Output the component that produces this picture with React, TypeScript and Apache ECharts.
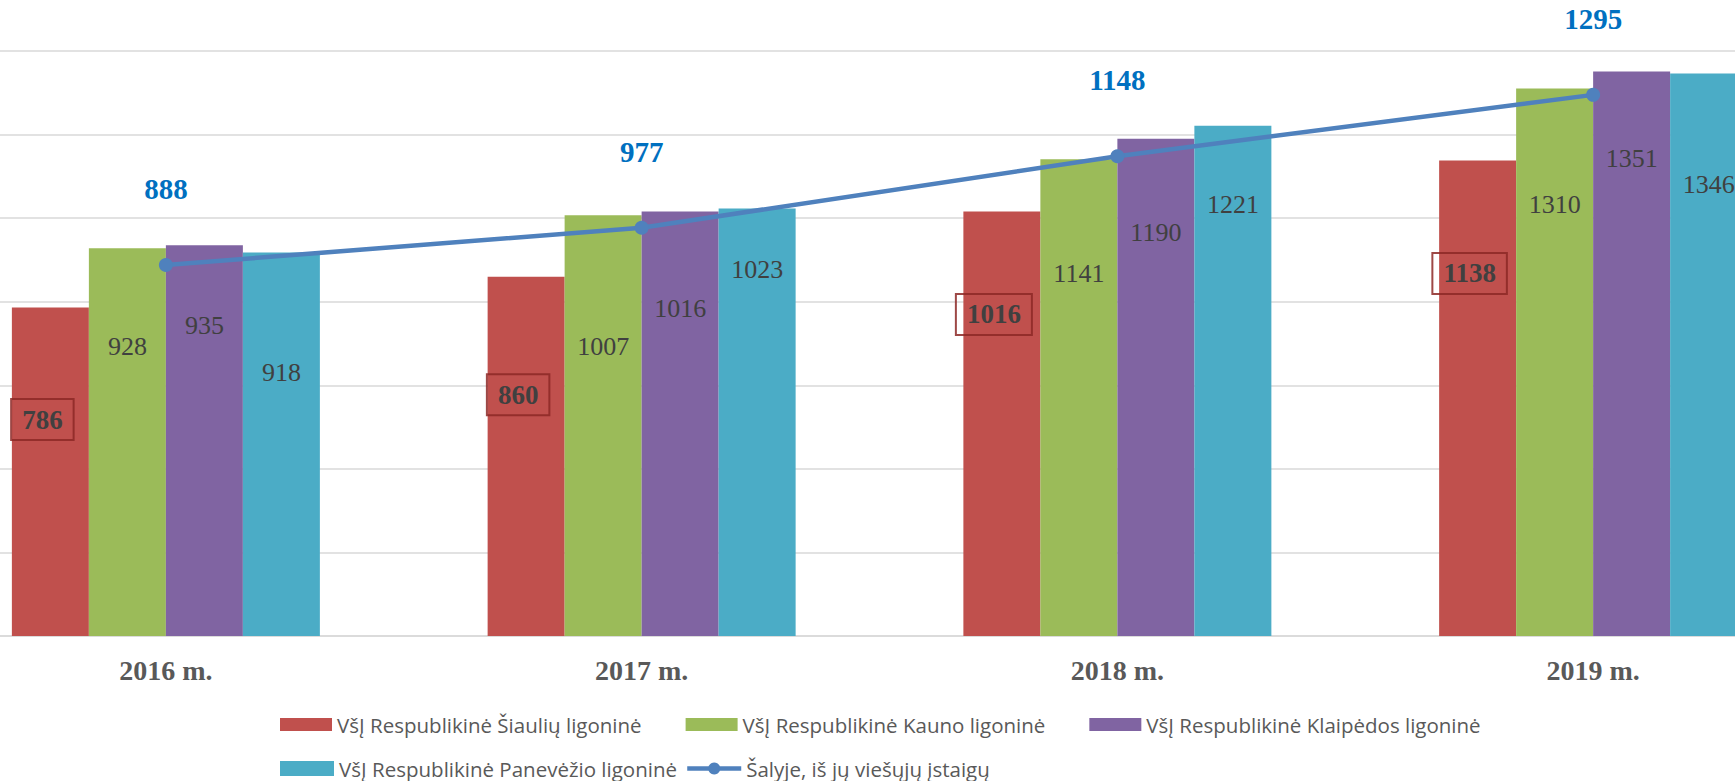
import React, { useEffect, useRef } from 'react';
import * as echarts from 'echarts';

const categories = ['2016 m.', '2017 m.', '2018 m.', '2019 m.'];
const siauliai = [786, 860, 1016, 1138];
const kaunas = [928, 1007, 1141, 1310];
const klaipeda = [935, 1016, 1190, 1351];
const panevezys = [918, 1023, 1221, 1346];
const salyje = [888, 977, 1148, 1295];

const names = [
  'VšĮ Respublikinė Šiaulių ligoninė',
  'VšĮ Respublikinė Kauno ligoninė',
  'VšĮ Respublikinė Klaipėdos ligoninė',
  'VšĮ Respublikinė Panevėžio ligoninė',
  'Šalyje, iš jų viešųjų įstaigų',
];

// label placement (px below each bar's top), as hand-placed in the original
const dropSiauliai = [112, 118, 103, 113];
const dropKaunas = [98, 131, 114, 116];
const dropKlaipeda = [80, 97, 94, 87];
const dropPanevezys = [120, 61, 79, 111];

const SERIF = "'Liberation Serif', 'Times New Roman', serif";
const SANS = "'Open Sans', 'Noto Sans', sans-serif";

const SHIFT_LEFT = 72;
const EXTRA_RIGHT = 96;

export default function App() {
  const ref = useRef<HTMLDivElement>(null);
  useEffect(() => {
    document.body.style.margin = '0';
    const chart = echarts.init(ref.current!, null, { renderer: 'svg' });
    const withDrop = (vals: number[], drops: number[], half: number) =>
      vals.map((v, i) => ({ value: v, label: { distance: drops[i] - half } }));
    const plainLabel = {
      show: true,
      position: 'insideTop',
      color: '#404040',
      fontFamily: SERIF,
      fontSize: 26,
      lineHeight: 26,
    };
    const legendBase = {
      left: 275 + SHIFT_LEFT,
      itemWidth: 52,
      itemHeight: 13,
      textStyle: { color: '#595959', fontFamily: SANS, fontSize: 20.5 },
      selectedMode: false,
    };
    chart.setOption({
      animation: false,
      backgroundColor: '#ffffff',
      grid: { left: 0, right: 0, top: 51, bottom: 145, containLabel: false },
      legend: [
        {
          ...legendBase,
          top: 709,
          itemGap: 44,
          data: [
            { name: names[0], icon: 'rect' },
            { name: names[1], icon: 'rect' },
            { name: names[2], icon: 'rect' },
          ],
        },
        {
          ...legendBase,
          top: 753,
          itemGap: 8,
          itemWidth: 54,
          itemHeight: 15,
          data: [
            { name: names[3], icon: 'rect', itemStyle: {}, },
            { name: names[4], lineStyle: { width: 4.5 } },
          ],
        },
      ],
      xAxis: {
        type: 'category',
        data: categories,
        axisLine: { lineStyle: { color: '#d9d9d9', width: 1.5 } },
        axisTick: { show: false },
        axisLabel: {
          color: '#595959',
          fontFamily: SERIF,
          fontWeight: 'bold',
          fontSize: 28,
          margin: 20,
        },
      },
      yAxis: {
        type: 'value',
        min: 0,
        max: 1400,
        interval: 200,
        axisLabel: { show: false },
        axisLine: { show: false },
        axisTick: { show: false },
        splitLine: { lineStyle: { color: '#d9d9d9', width: 1.5 } },
      },
      series: [
        {
          name: names[0],
          type: 'bar',
          data: withDrop(siauliai, dropSiauliai, 20.5),
          barWidth: 77,
          barGap: '0%',
          itemStyle: { color: '#C0504D' },
          label: {
            show: true,
            position: 'insideTop',
            offset: [-8, 0],
            color: '#404040',
            fontFamily: SERIF,
            fontWeight: 'bold',
            fontSize: 27,
            lineHeight: 27,
            padding: [7, 11, 7, 11],
            borderColor: 'rgba(140,40,38,0.85)',
            borderWidth: 2,
          },
        },
        {
          name: names[1],
          type: 'bar',
          data: withDrop(kaunas, dropKaunas, 13),
          barWidth: 77,
          barGap: '0%',
          itemStyle: { color: '#9BBB59' },
          label: plainLabel,
        },
        {
          name: names[2],
          type: 'bar',
          data: withDrop(klaipeda, dropKlaipeda, 13),
          barWidth: 77,
          barGap: '0%',
          itemStyle: { color: '#8064A2' },
          label: plainLabel,
        },
        {
          name: names[3],
          type: 'bar',
          data: withDrop(panevezys, dropPanevezys, 13),
          barWidth: 77,
          barGap: '0%',
          itemStyle: { color: '#4BACC6' },
          label: plainLabel,
        },
        {
          name: names[4],
          type: 'line',
          data: salyje,
          z: 5,
          symbol: 'circle',
          symbolSize: 14,
          itemStyle: { color: '#4F81BD' },
          lineStyle: { color: '#4F81BD', width: 4.5 },
          label: {
            show: true,
            position: 'top',
            distance: 54,
            color: '#0070C0',
            fontFamily: SERIF,
            fontWeight: 'bold',
            fontSize: 29,
            lineHeight: 30,
          },
        },
      ],
    });
    return () => chart.dispose();
  }, []);
  return (
    <div
      style={{
        position: 'relative',
        width: 1735,
        height: 781,
        overflow: 'hidden',
        background: '#ffffff',
      }}
    >
      <div
        ref={ref}
        style={{
          position: 'absolute',
          left: -SHIFT_LEFT,
          top: 0,
          width: 1735 + SHIFT_LEFT + EXTRA_RIGHT,
          height: 781,
        }}
      />
    </div>
  );
}
